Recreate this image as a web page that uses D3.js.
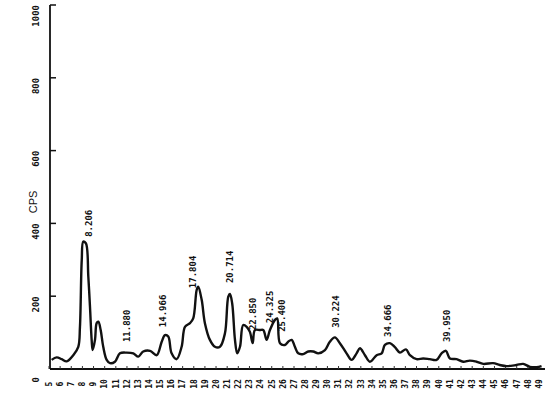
<!DOCTYPE html>
<html>
<head>
<meta charset="utf-8">
<script src="https://cdn.jsdelivr.net/npm/d3@7"></script>
<style>
  body { margin: 0; background: #fff; }
  svg { display: block; }
</style>
</head>
<body>
<svg id="Vis" width="546" height="402"></svg>
<script>
// 2-theta (deg) and counts
var twoTheta = [5.24, 5.69, 6.14, 6.59, 7.18, 7.63, 7.78, 7.94, 8.08, 8.32, 8.53, 8.68, 8.83, 8.92, 9.13, 9.28, 9.43, 9.64, 9.87, 10.18,
  10.48, 10.92, 11.37, 11.97, 12.57, 13.02, 13.46, 14.07, 14.67, 15.12, 15.41, 15.71, 16.01, 16.46, 16.91, 17.21, 17.66, 17.95, 18.26, 18.40,
  18.71, 19.00, 19.45, 19.90, 20.35, 20.80, 21.10, 21.25, 21.45, 21.70, 21.90, 22.15, 22.44, 22.75, 23.04, 23.29, 23.49, 23.94, 24.24, 24.54,
  24.84, 25.29, 25.49, 25.74, 26.18, 26.48, 26.79, 27.08, 27.38, 27.83, 28.28, 28.73, 29.17, 29.78, 30.22, 30.67, 31.12, 31.72, 32.17, 32.62,
  32.92, 33.37, 33.82, 34.42, 34.87, 35.16, 35.61, 36.06, 36.51, 37.05, 37.41, 38.01, 38.60, 39.20, 39.80, 40.25, 40.64, 41.00, 41.60, 42.19,
  42.79, 43.39, 43.99, 44.88, 45.48, 46.09, 46.98, 47.58, 48.18, 48.78, 49.23];
var cps = [25, 32, 27, 21, 38, 61, 116, 299, 350, 345, 254, 171, 80, 52, 80, 126, 130, 107, 61, 25,
  16, 20, 43, 45, 43, 34, 48, 50, 38, 75, 93, 89, 43, 27, 61, 116, 126, 139, 217, 226,
  190, 126, 80, 61, 61, 98, 199, 206, 180, 80, 43, 61, 121, 116, 102, 71, 107, 107, 107, 80,
  107, 135, 139, 71, 66, 75, 80, 61, 43, 41, 48, 48, 43, 52, 75, 87, 71, 43, 25, 43,
  57, 38, 20, 38, 43, 66, 71, 60, 45, 54, 38, 27, 29, 27, 25, 43, 50, 29, 27, 20,
  23, 20, 14, 16, 11, 8, 11, 14, 6, 5, 8];

var xTicks = d3.range(5, 50);
var yTicks = [0, 200, 400, 600, 800, 1000];

// peak annotations: printed d-value, where it sits along 2-theta, and the count level its foot starts at
var peakText = ["8.206", "11.880", "14.966", "17.804", "20.714", "22.850", "24.325", "25.400", "30.224", "34.666", "39.950"];
var peakAt = [8.59, 12.03, 15.26, 17.95, 21.25, 23.34, 24.84, 25.89, 30.76, 35.46, 40.75];
var peakFoot = [363, 74, 115, 222, 236, 107, 126, 102, 113, 88, 74];

var svg = d3.select("#Vis");

var x = d3.scaleLinear().domain([5, 49]).range([49, 539]);
var y = d3.scaleLinear().domain([0, 1000]).range([369, 5]);

var plotFont = "'DejaVu Sans Mono', monospace";

// y axis
svg.append("line")
  .attr("x1", 50).attr("x2", 50)
  .attr("y1", y(1000)).attr("y2", y(0))
  .attr("stroke", "#111").attr("stroke-width", 1.8);

svg.selectAll(".ytick").data(yTicks.slice(1)).enter()
  .append("line")
  .attr("class", "ytick")
  .attr("x1", 50).attr("x2", 56)
  .attr("y1", function(d){ return y(d); })
  .attr("y2", function(d){ return y(d); })
  .attr("stroke", "#111").attr("stroke-width", 1.5);

svg.selectAll(".ylab").data(yTicks).enter()
  .append("text")
  .attr("class", "ylab")
  .attr("transform", function(d){ return "translate(36," + (y(d) + (d == 0 ? 8 : 0)) + ") rotate(-90)"; })
  .attr("text-anchor", "end")
  .attr("dy", "0.35em")
  .style("font-family", plotFont)
  .style("font-weight", "bold")
  .style("font-size", "9px")
  .attr("fill", "#111")
  .text(function(d){ return d; });

svg.append("text")
  .attr("transform", "translate(33,202) rotate(-90)")
  .attr("text-anchor", "middle")
  .attr("dy", "0.35em")
  .style("font-family", "'Liberation Sans', Arial, sans-serif")
  .style("font-size", "11px")
  .attr("fill", "#111")
  .text("CPS");

// x axis
svg.append("line")
  .attr("x1", 50).attr("x2", 545)
  .attr("y1", y(0)).attr("y2", y(0))
  .attr("stroke", "#111").attr("stroke-width", 1.8);

svg.selectAll(".xtick").data(xTicks).enter()
  .append("line")
  .attr("class", "xtick")
  .attr("x1", function(d){ return x(d); })
  .attr("x2", function(d){ return x(d); })
  .attr("y1", y(0) - 3).attr("y2", y(0))
  .attr("stroke", "#333").attr("stroke-width", 1);

svg.selectAll(".xlab").data(xTicks).enter()
  .append("text")
  .attr("class", "xlab")
  .attr("transform", function(d){ return "translate(" + x(d) + ",384) rotate(-90)"; })
  .attr("text-anchor", "middle")
  .attr("dy", "0.35em")
  .style("font-family", plotFont)
  .style("font-weight", "bold")
  .style("font-size", "8px")
  .attr("fill", "#111")
  .text(function(d){ return d; });

// trace
var line = d3.line()
  .x(function(d, i){ return x(twoTheta[i]); })
  .y(function(d){ return y(d); })
  .curve(d3.curveCatmullRom.alpha(0.5));

svg.append("path")
  .datum(cps)
  .attr("d", line)
  .attr("fill", "none")
  .attr("stroke", "#111")
  .attr("stroke-width", 2.4)
  .attr("stroke-linejoin", "round");

// peak labels
svg.selectAll(".peak").data(peakText).enter()
  .append("text")
  .attr("class", "peak")
  .attr("transform", function(d, i){ return "translate(" + x(peakAt[i]) + "," + y(peakFoot[i]) + ") rotate(-90)"; })
  .attr("text-anchor", "start")
  .attr("dy", "0.35em")
  .style("font-family", plotFont)
  .style("font-weight", "bold")
  .style("font-size", "9px")
  .attr("fill", "#111")
  .text(function(d){ return d; });
</script>
</body>
</html>
